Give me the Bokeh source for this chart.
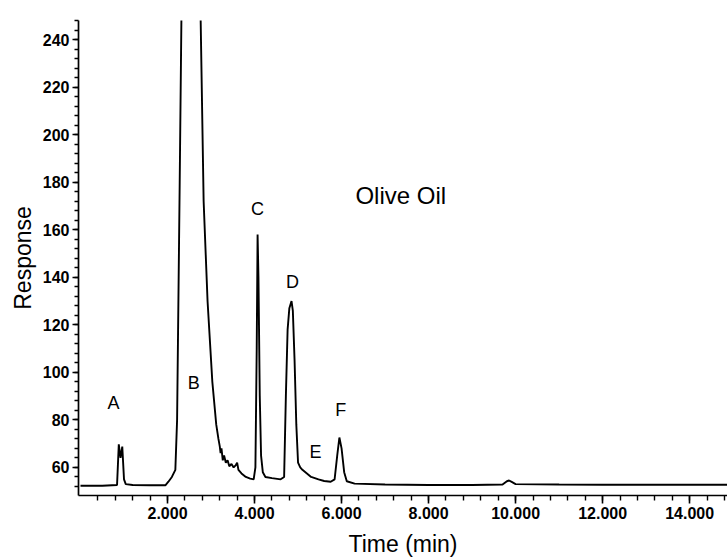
from bokeh.plotting import figure
from bokeh.models import Range1d, FixedTicker, PrintfTickFormatter, ColumnDataSource
from bokeh.core.properties import value
from bokeh.embed import file_html
from bokeh.resources import INLINE

# Chromatogram trace (time in min, detector response)
time_min = [0.0, 0.5, 0.84, 0.88, 0.92, 0.96, 1.0, 1.04, 1.2, 1.6, 1.95,
            2.02, 2.1, 2.18, 2.22, 2.25, 2.28, 2.32, 2.4, 2.55, 2.68, 2.76,
            2.83, 2.92, 3.03, 3.12, 3.17, 3.2, 3.22, 3.24, 3.27, 3.3, 3.34,
            3.38, 3.42, 3.47, 3.52, 3.57, 3.6, 3.63, 3.7, 3.8, 3.9, 3.98,
            4.02, 4.05, 4.07, 4.09, 4.12, 4.15, 4.19, 4.25, 4.4, 4.6, 4.68,
            4.72, 4.76, 4.8, 4.85, 4.88, 4.92, 4.96, 5.0, 5.05, 5.1, 5.3,
            5.47, 5.6, 5.75, 5.84, 5.9, 5.95, 6.0, 6.06, 6.12, 6.3, 7.0, 8.0,
            9.0, 9.7, 9.8, 9.85, 9.92, 10.0, 11.0, 12.0, 14.0, 15.0]
response = [52.3, 52.3, 52.6, 69.7, 64.0, 68.8, 55.0, 53.0, 52.6, 52.5, 52.5,
            54.0, 56.0, 59.0, 80.0, 130.0, 180.0, 250.0, 330.0, 360.0, 320.0, 250.0,
            172.0, 130.0, 96.0, 78.0, 72.0, 69.0, 66.0, 68.0, 63.0, 65.0, 62.0,
            63.0, 60.5, 61.5, 60.0, 61.0, 62.0, 59.0, 57.5, 56.0, 55.3, 55.0,
            60.0, 110.0, 158.0, 140.0, 90.0, 65.0, 58.0, 56.0, 55.5, 55.0, 56.0,
            90.0, 118.0, 127.0, 130.0, 126.0, 105.0, 78.0, 62.0, 60.0, 59.0, 56.0,
            55.0, 54.3, 54.0, 55.0, 65.0, 72.6, 68.0, 58.0, 54.2, 53.2, 52.8, 52.6,
            52.6, 52.8, 54.2, 54.5, 53.8, 53.0, 52.8, 52.7, 52.7, 52.7]

# Peak labels and title annotation
label_x = [0.76, 2.6, 4.07, 4.87, 5.4, 5.98]
label_y = [86.9, 95.7, 168.8, 138.0, 66.7, 84.0]
label_text = ["A", "B", "C", "D", "E", "F"]
title_x = [7.36]
title_y = [174.3]
title_text = ["Olive Oil"]

x_major = [2, 4, 6, 8, 10, 12, 14]
x_minor = [round(0.4 * k, 1) for k in range(1, 38)]
y_major = [60, 80, 100, 120, 140, 160, 180, 200, 220, 240]
y_minor = list(range(52, 249, 4))

FONT = "Liberation Sans"

p = figure(width=727, height=559, output_backend="svg", toolbar_location=None,
           x_range=Range1d(-0.046, 14.87), y_range=Range1d(48.2, 248.0),
           min_border_left=78, min_border_right=0, min_border_top=20,
           min_border_bottom=63)
p.xgrid.visible = False
p.ygrid.visible = False
p.outline_line_color = None
p.background_fill_color = "white"

p.line(time_min, response, line_color="black", line_width=1.9)

src = ColumnDataSource(dict(x=label_x, y=label_y, t=label_text))
p.text(x="x", y="y", text="t", source=src, text_align="center",
       text_baseline="middle", text_font=value(FONT), text_font_size="18px",
       text_color="black")
src2 = ColumnDataSource(dict(x=title_x, y=title_y, t=title_text))
p.text(x="x", y="y", text="t", source=src2, text_align="center",
       text_baseline="middle", text_font=value(FONT), text_font_size="24px",
       text_color="black")

xa = p.xaxis[0]
xa.ticker = FixedTicker(ticks=x_major, minor_ticks=x_minor)
xa.formatter = PrintfTickFormatter(format="%.3f")
xa.axis_label = "Time (min)"
ya = p.yaxis[0]
ya.ticker = FixedTicker(ticks=y_major, minor_ticks=y_minor)
ya.axis_label = "Response"

for ax in (xa, ya):
    ax.axis_line_color = "black"
    ax.axis_line_width = 1.7
    ax.major_tick_line_color = "black"
    ax.minor_tick_line_color = "black"
    ax.major_tick_line_width = 1.6
    ax.minor_tick_line_width = 1.4
    ax.major_tick_in = 0
    ax.minor_tick_in = 0
    ax.major_label_text_font = FONT
    ax.major_label_text_font_size = "16px"
    ax.major_label_text_font_style = "bold"
    ax.major_label_text_color = "black"
    ax.axis_label_text_font = FONT
    ax.axis_label_text_font_style = "normal"
    ax.axis_label_text_font_size = "23px"
    ax.axis_label_text_color = "black"

xa.major_tick_out = 8
xa.minor_tick_out = 5
xa.major_label_standoff = 3
xa.axis_label_standoff = 9
ya.major_tick_out = 6
ya.minor_tick_out = 4
ya.major_label_standoff = 3
ya.axis_label_standoff = 4

open("out.html", "w").write(file_html(p, INLINE))
